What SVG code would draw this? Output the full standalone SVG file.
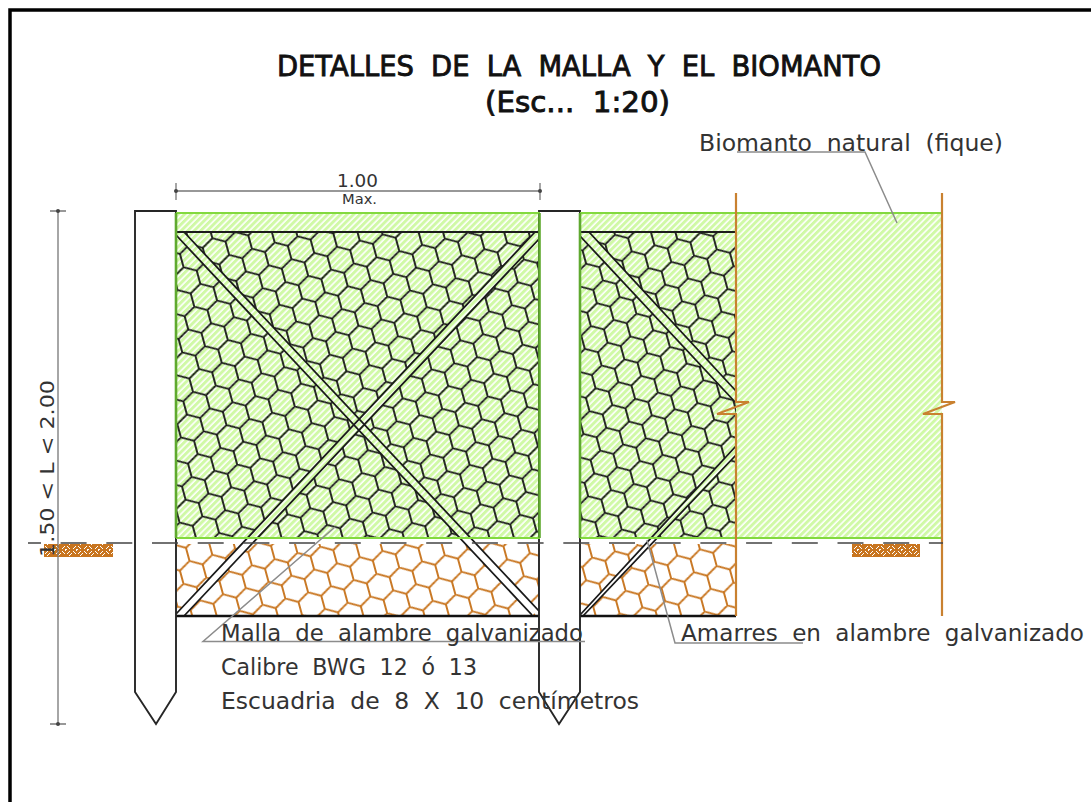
<svg xmlns="http://www.w3.org/2000/svg" width="1091" height="802" viewBox="0 0 1091 802">
<style>
.blk{fill:none;stroke:#1c1c1c;stroke-width:1.8}
.brace{stroke:#1a1a1a;stroke-width:1.8;fill:none}
.org{fill:none;stroke:#c98130;stroke-width:2.2}
.grn{fill:none;stroke:#83d93f;stroke-width:2.2}
.grnd{fill:none;stroke:#5fa92f;stroke-width:2.6}
.post{fill:#fff;stroke:#262626;stroke-width:1.9}
.lead{fill:none;stroke:#8c8c8c;stroke-width:1.5}
.dim{fill:none;stroke:#777;stroke-width:1.3}
.lbl{font-family:"DejaVu Sans",sans-serif;font-size:23px;fill:#333;word-spacing:7px}
.ttl{font-family:"DejaVu Sans",sans-serif;font-size:29px;fill:#111;stroke:#111;stroke-width:.9;word-spacing:9px}
.dimt{font-family:"DejaVu Sans",sans-serif;fill:#333}
</style>
<defs>
<pattern id="hatch" width="4.6" height="4.6" patternUnits="userSpaceOnUse" patternTransform="rotate(-45)">
<rect width="4.6" height="4.6" fill="#fff"/><rect width="4.6" height="3" fill="#d0f9a6"/>
</pattern>
<pattern id="hexK" width="23.6" height="40.88" patternUnits="userSpaceOnUse" patternTransform="translate(232.7 268) rotate(-15.2) translate(-11.8 -13.625)">
<path d="M0,6.81L11.8,0L23.6,6.81M0,6.81V20.44L11.8,27.25L23.6,20.44M23.6,6.81V20.44M11.8,27.25V40.88" fill="none" stroke="#161616" stroke-width="1.8"/>
</pattern>
<pattern id="hexO" width="23.6" height="40.88" patternUnits="userSpaceOnUse" patternTransform="translate(448.3 568.3) rotate(-15.2) translate(-11.8 -13.625)">
<path d="M0,6.81L11.8,0L23.6,6.81M0,6.81V20.44L11.8,27.25L23.6,20.44M23.6,6.81V20.44M11.8,27.25V40.88" fill="none" stroke="#c8751f" stroke-width="1.9"/>
</pattern>
<pattern id="soil" width="11" height="11" patternUnits="userSpaceOnUse">
<rect width="11" height="11" fill="#c8751f"/>
<path d="M1,4L4,1M3,6L6,3M7,10L10,7M9,12L12,9M7,1L10,4M9,-1L12,2M1,7L4,10M-1,9L2,12" stroke="#fff" stroke-width="1"/>
</pattern>
<clipPath id="cGreen"><rect x="176" y="232" width="560" height="306"/></clipPath>
</defs>
<rect width="1091" height="802" fill="#fff"/>
<path d="M10,802V10H1091" fill="none" stroke="#000" stroke-width="3.5"/>

<g id="biomanto">
<rect x="176" y="213" width="364" height="325" fill="url(#hatch)"/>
<rect x="580" y="213" width="362" height="325" fill="url(#hatch)"/>
</g>

<g id="mesh-panel-1">
<rect x="176" y="232" width="364" height="306" fill="url(#hexK)"/>
<rect x="177" y="544" width="363" height="72" fill="url(#hexO)"/>
</g>
<g id="mesh-panel-2">
<rect x="580" y="232" width="156" height="306" fill="url(#hexK)"/>
<rect x="580" y="544" width="156" height="72" fill="url(#hexO)"/>
</g>

<g id="braces">
<g fill="#fff">
<polygon points="176,235 184,232 539,611 532,615"/>
<polygon points="176,614 535,232 540,238 184,616"/>
<polygon points="580,236 589,232 736,391 736,403"/>
<polygon points="580,615 736,446 736,455 583,616"/>
</g>
<g fill="url(#hatch)" clip-path="url(#cGreen)">
<polygon points="176,235 184,232 539,611 532,615"/>
<polygon points="176,614 535,232 540,238 184,616"/>
<polygon points="580,236 589,232 736,391 736,403"/>
<polygon points="580,615 736,446 736,455 583,616"/>
</g>
<path class="brace" d="M176,235L532,615M184,232L539,611M176,614L535,232M184,616L540,238M580,236L736,403M589,232L736,391M580,615L736,446M583,616L736,455"/>
</g>

<g id="frame-lines">
<path class="blk" d="M176,232H540M580,232H736"/>
<path d="M176,616H736" fill="none" stroke="#111" stroke-width="2.4"/>
</g>

<g id="post-1"><path class="post" d="M135,211H176V692L156,724L135,692Z"/></g>
<g id="post-2"><path class="post" d="M539,211H580V692L559,724L539,692Z"/></g>

<g id="edges">
<path class="grn" d="M176,213H540M580,213H942M176,538H540M580,538H942"/>
<path class="grnd" d="M176,213V538M539.5,213V538M580,213V538"/>
<path class="org" d="M736,193V402H749L717,414H736V616M942,193V402H955L923,414H942V616"/>
</g>

<g id="ground">
<rect x="44" y="544" width="69" height="13" fill="url(#soil)"/>
<rect x="852" y="544" width="68" height="13" fill="url(#soil)"/>
<path d="M28,543H41M60.6,543H87M106.3,543H943" fill="none" stroke="#444" stroke-width="1.7" stroke-dasharray="26 19.7"/>
</g>

<g id="dimensions">
<path class="dim" d="M176,191H540M176,183V200M540,183V200M58,211V724M50,211H66M50,724H66"/>
<circle cx="176" cy="191" r="2" fill="#444"/><circle cx="540" cy="191" r="2" fill="#444"/>
<circle cx="58" cy="211" r="2" fill="#444"/><circle cx="58" cy="724" r="2" fill="#444"/>
<text class="dimt" x="337" y="187" font-size="18" textLength="41" lengthAdjust="spacingAndGlyphs">1.00</text>
<text class="dimt" x="342" y="204" font-size="14" textLength="35" lengthAdjust="spacingAndGlyphs">Max.</text>
<text class="dimt" transform="translate(53.5 557) rotate(-90)" font-size="20" textLength="177" lengthAdjust="spacingAndGlyphs">1.50 &lt; L &lt; 2.00</text>
</g>

<g id="leaders">
<path class="lead" d="M335,527L203,641.5H585"/>
<path class="lead" d="M647,540L675,643H803"/>
<path class="lead" d="M737,152H865L897,223"/>
</g>

<g id="labels">
<text class="ttl" x="277" y="76" textLength="604" lengthAdjust="spacingAndGlyphs">DETALLES DE LA MALLA Y EL BIOMANTO</text>
<text class="ttl" x="485" y="112" textLength="185" lengthAdjust="spacingAndGlyphs">(Esc... 1:20)</text>
<text class="lbl" x="699" y="151" textLength="304" lengthAdjust="spacingAndGlyphs">Biomanto natural (fique)</text>
<text class="lbl" x="221" y="641" textLength="362" lengthAdjust="spacingAndGlyphs">Malla de alambre galvanizado</text>
<text class="lbl" x="221" y="675" textLength="256" lengthAdjust="spacingAndGlyphs">Calibre BWG 12 ó 13</text>
<text class="lbl" x="221" y="709" textLength="418" lengthAdjust="spacingAndGlyphs">Escuadria de 8 X 10 centímetros</text>
<text class="lbl" x="681" y="641" textLength="403" lengthAdjust="spacingAndGlyphs">Amarres en alambre galvanizado</text>
</g>
</svg>
